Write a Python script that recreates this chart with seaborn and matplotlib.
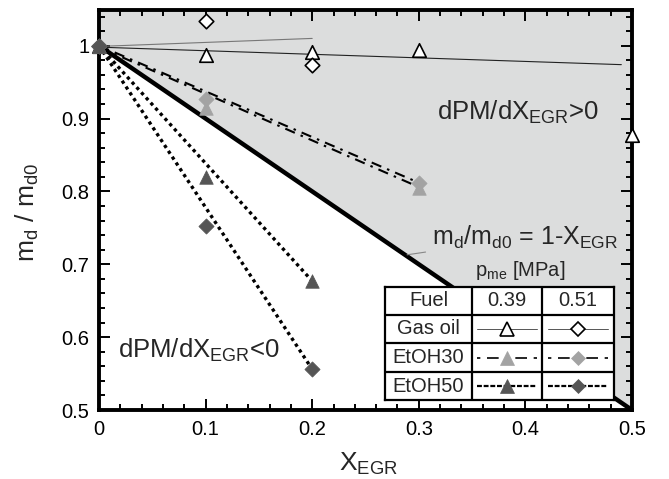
import numpy as np
import pandas as pd
import matplotlib
matplotlib.use("Agg")
import matplotlib.pyplot as plt
import seaborn as sns
from matplotlib.ticker import MultipleLocator, FuncFormatter
from matplotlib.lines import Line2D

# --- measured soot mass ratio vs. EGR rate ---
x_gas39 = [0.0, 0.1, 0.2, 0.3, 0.5]
m_gas39 = [1.0, 0.987, 0.992, 0.994, 0.878]
x_gas51 = [0.0, 0.1, 0.2]
m_gas51 = [1.0, 1.034, 0.973]
x_e30 = [0.0, 0.1, 0.3]
m_e30_39 = [1.0, 0.915, 0.805]
m_e30_51 = [1.0, 0.927, 0.811]
x_e50 = [0.0, 0.1, 0.2]
m_e50_39 = [1.0, 0.820, 0.677]
m_e50_51 = [1.0, 0.752, 0.556]

# trend lines (end points)
trend_gas39_x = [0.0, 0.49]
trend_gas39_y = [0.998, 0.974]
trend_gas51_x = [0.0, 0.2]
trend_gas51_y = [0.999, 1.010]
trend_e30_x = [0.0, 0.3]
trend_e30_39_y = [0.998, 0.806]
trend_e30_51_y = [1.0, 0.812]
trend_e50_x = [0.0, 0.2]
trend_e50_39_y = [1.0, 0.677]
trend_e50_51_y = [1.0, 0.556]

# dilution limit m_d/m_d0 = 1 - X_EGR
limit_x = [0.0, 0.5]
limit_y = [1.0, 0.5]

fuels = ["Gas oil", "EtOH30", "EtOH50"]
loads = ["0.39", "0.51"]

sns.set_style("ticks")
plt.rcParams["font.family"] = ["Liberation Sans", "DejaVu Sans"]
plt.rcParams["mathtext.fontset"] = "custom"
plt.rcParams["mathtext.rm"] = "Liberation Sans"
plt.rcParams["mathtext.it"] = "Liberation Sans"
plt.rcParams["mathtext.bf"] = "Liberation Sans"

LIGHT = "#a3a3a3"
DARK = "#555555"
SHADE = "#dcdddd"
DASHDOT = (0, (5, 3, 1.2, 3))
DOTS = (0, (1, 1.1))

fig = plt.figure(figsize=(6.69, 4.79), dpi=100)
ax = fig.add_axes([99 / 669, 1 - 410 / 479, 533 / 669, 400 / 479])

# region above the dilution line
fx = np.array(limit_x)
ax.fill_between(fx, np.array(limit_y), 1.05, color=SHADE, lw=0, zorder=0)
sns.lineplot(x=limit_x, y=limit_y, ax=ax, color="black", lw=3.2, zorder=2)

def trend(xs, ys, **kw):
    sns.lineplot(x=xs, y=ys, ax=ax, zorder=3, **kw)

trend(trend_gas39_x, trend_gas39_y, color="#222222", lw=0.8)
trend(trend_gas51_x, trend_gas51_y, color="#777777", lw=0.8)
trend(trend_e30_x, trend_e30_39_y, color="black", lw=1.5, linestyle=DASHDOT)
trend(trend_e30_x, trend_e30_51_y, color="black", lw=1.5, linestyle=(4, (5, 3, 1.2, 3)))
trend(trend_e50_x, trend_e50_39_y, color="black", lw=2.4, linestyle=DOTS)
trend(trend_e50_x, trend_e50_51_y, color="black", lw=2.4, linestyle=DOTS)

def points(xs, ys, marker, size, face, edge, lw):
    sns.scatterplot(x=xs, y=ys, ax=ax, marker=marker, s=size, color=face,
                    edgecolor=edge, linewidth=lw, zorder=5, clip_on=False)

points(x_gas39, m_gas39, "^", 95, "white", "black", 1.2)
points(x_gas51, m_gas51, "D", 55, "white", "black", 1.2)
points(x_e30, m_e30_39, "^", 95, LIGHT, LIGHT, 0.5)
points(x_e30, m_e30_51, "D", 60, LIGHT, LIGHT, 0.5)
points(x_e50, m_e50_39, "^", 95, DARK, DARK, 0.5)
points(x_e50, m_e50_51, "D", 60, DARK, DARK, 0.5)

ax.set_xlim(0, 0.5)
ax.set_ylim(0.5, 1.049)
ax.xaxis.set_major_locator(MultipleLocator(0.1))
ax.xaxis.set_minor_locator(MultipleLocator(0.02))
ax.yaxis.set_major_locator(MultipleLocator(0.1))
ax.yaxis.set_minor_locator(MultipleLocator(0.02))
fmt = FuncFormatter(lambda v, p: f"{v:g}")
ax.xaxis.set_major_formatter(fmt)
ax.yaxis.set_major_formatter(fmt)
ax.tick_params(which="both", direction="in", top=True, right=True,
               labelsize=14.5, width=1.4, colors="black")
ax.tick_params(which="major", length=8, pad=7)
ax.tick_params(which="minor", length=4)
for s in ax.spines.values():
    s.set_linewidth(2.8)
    s.set_color("black")
ax.set_facecolor("white")

SUB = r"$_{\mathregular{%s}}$"
fig.text(27 / 669, 1 - 212 / 479, "m" + SUB % "d" + " / m" + SUB % "d0",
         rotation=90, fontsize=19, ha="center", va="center")
fig.text(368 / 669, 1 - 464 / 479, "X" + SUB % "EGR",
         fontsize=19, ha="center", va="center")

ax.text(0.317, 0.908, "dPM/dX" + SUB % "EGR" + ">0", fontsize=18.5,
        ha="left", va="center", zorder=6)
ax.text(0.018, 0.582, "dPM/dX" + SUB % "EGR" + "<0", fontsize=18.5,
        ha="left", va="center", zorder=6)
ax.annotate("m" + SUB % "d" + "/m" + SUB % "d0" + " = 1-X" + SUB % "EGR",
            xy=(0.289, 0.713), xytext=(0.312, 0.737), fontsize=18,
            ha="left", va="center",
            arrowprops=dict(arrowstyle="-", color="#888888", lw=0.8,
                            shrinkA=2, shrinkB=0), zorder=6)
fig.text(520 / 669, 1 - 270 / 479, "p" + SUB % "me" + " [MPa]",
         fontsize=14.5, ha="center", va="center")

# legend table: fuel rows x load columns
tab = fig.add_axes([385 / 669, 1 - 400 / 479, 229 / 669, 113 / 479])
tab.set_xlim(0, 229)
tab.set_ylim(113, 0)
tab.set_xticks([])
tab.set_yticks([])
tab.set_facecolor("white")
for s in tab.spines.values():
    s.set_linewidth(1.6)
    s.set_color("black")
col_edges = [0, 87, 157, 229]
row_edges = [0, 28, 56, 85, 113]
for c in col_edges[1:-1]:
    tab.plot([c, c], [0, 113], color="black", lw=1.6)
for r in row_edges[1:-1]:
    tab.plot([0, 229], [r, r], color="black", lw=1.6)

col_mid = [(col_edges[i] + col_edges[i + 1]) / 2 for i in range(3)]
row_mid = [(row_edges[i] + row_edges[i + 1]) / 2 for i in range(4)]
tab.text(col_mid[0], row_mid[0], "Fuel", fontsize=14.5, ha="center", va="center")
for j, ld in enumerate(loads):
    tab.text(col_mid[j + 1], row_mid[0], ld, fontsize=14.5, ha="center", va="center")

styles = {
    "Gas oil": dict(ls="-", lw=0.7, lc="#555555", faces=["white", "white"],
                    edges=["black", "black"]),
    "EtOH30": dict(ls=(0, (2, 4, 7, 4)), lw=1.2, lc="black",
                   faces=[LIGHT, LIGHT], edges=[LIGHT, LIGHT]),
    "EtOH50": dict(ls=(0, (2.2, 0.8)), lw=1.6, lc="black",
                   faces=[DARK, DARK], edges=[DARK, DARK]),
}
markers = ["^", "D"]
msizes = [9.5, 7.0]
for i, fuel in enumerate(fuels):
    st = styles[fuel]
    tab.text(col_mid[0], row_mid[i + 1], fuel, fontsize=14.5, ha="center", va="center")
    for j in range(2):
        cx, cy = col_mid[j + 1], row_mid[i + 1]
        tab.add_line(Line2D([cx - 30, cx + 30], [cy, cy], color=st["lc"],
                            lw=st["lw"], linestyle=st["ls"]))
        tab.plot([cx], [cy], marker=markers[j], ms=msizes[j],
                 mfc=st["faces"][j], mec=st["edges"][j],
                 mew=1.2 if fuel == "Gas oil" else 0.5, ls="none")

fig.savefig("out.png", dpi=100)
